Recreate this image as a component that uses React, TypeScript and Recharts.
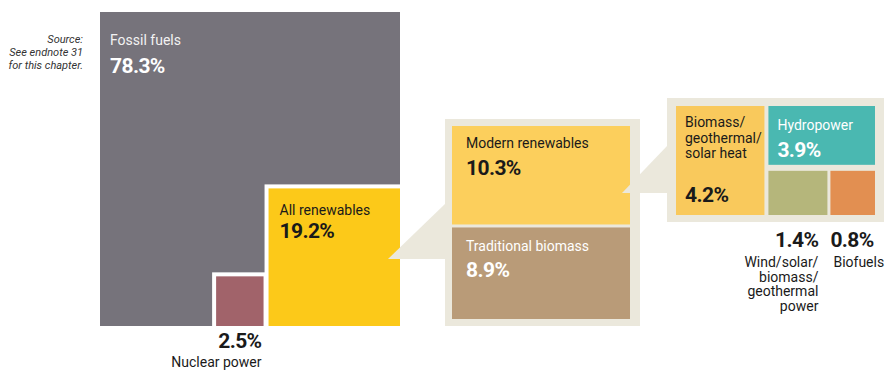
import React from 'react';
import { ComposedChart, XAxis, YAxis, ReferenceArea } from 'recharts';

// shares of total final energy consumption (%)
const shareLabels = ['Fossil fuels', 'All renewables', 'Nuclear power'];
const shareValues = [78.3, 19.2, 2.5];

const renewableLabels = ['Modern renewables', 'Traditional biomass'];
const renewableValues = [10.3, 8.9];

const modernLabels = [
  ['Biomass/', 'geothermal/', 'solar heat'],
  ['Hydropower'],
  ['Wind/solar/', 'biomass/', 'geothermal', 'power'],
  ['Biofuels'],
];
const modernValues = [4.2, 3.9, 1.4, 0.8];

const sourceNote = ['Source:', 'See endnote 31', 'for this chapter.'];

const W = 888;
const H = 380;
const FONT = 'Roboto, "Noto Sans", sans-serif';

const C = {
  fossil: '#76737b',
  renew: '#fcc919',
  nuclear: '#a1636a',
  panel: '#ebe8dc',
  modern: '#fccf5c',
  trad: '#b99b78',
  heat: '#f9c95c',
  hydro: '#4ab8b1',
  wind: '#b5b67b',
  bio: '#e28f51',
};

const pct = (v: number) => `${v.toFixed(1)}%`;
// box sides scale with the square root of the share, like the nested squares
const weight = (v: number) => Math.sqrt(v);

// layout frames
const block = { x: 100, y: 12, w: 300, h: 314 };
const panel1 = { x: 445, y: 119, w: 195, h: 207 };
const panel2 = { x: 667, y: 98, w: 217, h: 124 };

const total = shareValues.reduce((a, b) => a + b, 0);
const kR = Math.sqrt(shareValues[1] / total);
const kN = Math.sqrt(shareValues[2] / total);
const bx2 = block.x + block.w;
const by2 = block.y + block.h;
const renew = { x1: bx2 - block.w * kR, x2: bx2, y1: by2 - block.h * kR, y2: by2 };
const nuclear = { x2: renew.x1 - 5, x1: renew.x1 - 5 - block.w * kN, y1: by2 - block.h * kN, y2: by2 };

// middle panel: modern vs traditional
const in1 = { x1: panel1.x + 7, x2: panel1.x + panel1.w - 10, y1: panel1.y + 7, y2: panel1.y + panel1.h - 7 };
const avail1 = in1.y2 - in1.y1 - 3;
const wr = renewableValues.map(weight);
const modH = (avail1 * wr[0]) / (wr[0] + wr[1]);
const modern = { ...in1, y2: in1.y1 + modH };
const trad = { ...in1, y1: in1.y1 + modH + 3 };

// right panel: heat | (hydro / (wind | biofuels))
const in2 = { x1: panel2.x + 9, x2: panel2.x + panel2.w - 9, y1: panel2.y + 8, y2: panel2.y + panel2.h - 7 };
const wm = modernValues.map(weight);
const restW = weight(modernValues[1] + modernValues[2] + modernValues[3]);
const heatW = ((in2.x2 - in2.x1 - 4) * wm[0]) / (wm[0] + restW);
const heat = { ...in2, x2: in2.x1 + heatW };
const grpX1 = heat.x2 + 4;
const rowW = weight(modernValues[2] + modernValues[3]);
const hydroH = ((in2.y2 - in2.y1 - 6) * wm[1]) / (wm[1] + rowW);
const hydro = { x1: grpX1, x2: in2.x2, y1: in2.y1, y2: in2.y1 + hydroH };
const rowY1 = hydro.y2 + 6;
const windW = ((in2.x2 - grpX1 - 3) * wm[2]) / (wm[2] + wm[3]);
const wind = { x1: grpX1, x2: grpX1 + windW, y1: rowY1, y2: in2.y2 };
const bio = { x1: wind.x2 + 3, x2: in2.x2, y1: rowY1, y2: in2.y2 };

type TProps = {
  x: number;
  y: number;
  children: React.ReactNode;
  size?: number;
  bold?: boolean;
  fill?: string;
  anchor?: 'start' | 'end' | 'middle';
  italic?: boolean;
};
const T = ({ x, y, children, size = 14, bold, fill = '#1a1a1a', anchor = 'start', italic }: TProps) => (
  <text
    x={x}
    y={y}
    fontSize={size}
    fontWeight={bold ? 700 : 400}
    fill={fill}
    textAnchor={anchor}
    fontStyle={italic ? 'italic' : 'normal'}
    fontFamily={FONT}
    letterSpacing={bold ? -0.6 : 0}
  >
    {children}
  </text>
);

const plain = (fill: string) => (p: any) => <rect x={p.x} y={p.y} width={p.width} height={p.height} fill={fill} />;

const pointer = (fill: string) => (p: any) => (
  <polygon
    points={`${p.x},${p.y + p.height} ${p.x + p.width},${p.y} ${p.x + p.width},${p.y + p.height}`}
    fill={fill}
  />
);

const fossilShape = (p: any) => (
  <g>
    <rect x={p.x} y={p.y} width={p.width} height={p.height} fill={C.fossil} />
    <T x={p.x + 10} y={p.y + 33} fill="#f2f2f2">{shareLabels[0]}</T>
    <T x={p.x + 10} y={p.y + 61} size={21} bold fill="#ffffff">{pct(shareValues[0])}</T>
    {sourceNote.map((s, i) => (
      <T key={s} x={p.x - 17} y={p.y + 31 + i * 13} size={11} italic anchor="end" fill="#333">{s}</T>
    ))}
  </g>
);

const renewShape = (p: any) => (
  <g>
    <rect x={p.x} y={p.y} width={p.width} height={p.height} fill={C.renew} />
    <T x={p.x + 11} y={p.y + 27}>{shareLabels[1]}</T>
    <T x={p.x + 11} y={p.y + 50} size={21} bold>{pct(shareValues[1])}</T>
  </g>
);

const nuclearShape = (p: any) => (
  <g>
    <rect x={p.x} y={p.y} width={p.width} height={p.height} fill={C.nuclear} />
    <T x={p.x + p.width - 2} y={p.y + p.height + 22} size={21} bold anchor="end">{pct(shareValues[2])}</T>
    <T x={p.x + p.width - 2} y={p.y + p.height + 41} anchor="end">{shareLabels[2]}</T>
  </g>
);

const labelled = (fill: string, lines: string[], v: number, color: string, dy = 22, pctDy = 49, pad = 14) => (p: any) => (
  <g>
    <rect x={p.x} y={p.y} width={p.width} height={p.height} fill={fill} />
    {lines.map((l, i) => (
      <T key={l} x={p.x + pad} y={p.y + dy + i * 15.5} fill={color}>{l}</T>
    ))}
    <T x={p.x + pad} y={pctDy < 0 ? p.y + p.height + pctDy : p.y + pctDy} size={21} bold fill={color}>{pct(v)}</T>
  </g>
);

const windShape = (p: any) => (
  <g>
    <rect x={p.x} y={p.y} width={p.width} height={p.height} fill={C.wind} />
    <T x={p.x + p.width - 9} y={panel2.y + panel2.h + 25} size={21} bold anchor="end">{pct(modernValues[2])}</T>
    {modernLabels[2].map((l, i) => (
      <T key={l} x={p.x + p.width - 9} y={panel2.y + panel2.h + 45 + i * 14.5} anchor="end">{l}</T>
    ))}
  </g>
);

const bioShape = (p: any) => (
  <g>
    <rect x={p.x} y={p.y} width={p.width} height={p.height} fill={C.bio} />
    <T x={p.x} y={panel2.y + panel2.h + 25} size={21} bold>{pct(modernValues[3])}</T>
    <T x={p.x + 3} y={panel2.y + panel2.h + 45}>{modernLabels[3][0]}</T>
  </g>
);

const Area = ({ r, shape }: { r: { x1: number; x2: number; y1: number; y2: number }; shape: any }) => (
  <ReferenceArea x1={r.x1} x2={r.x2} y1={r.y1} y2={r.y2} shape={shape} ifOverflow="visible" />
);

export default function App() {
  return (
    <div style={{ position: 'fixed', left: 0, top: 0, width: W, height: H, background: '#fff' }}>
      <ComposedChart width={W} height={H} margin={{ top: 0, right: 0, bottom: 0, left: 0 }}>
        <XAxis type="number" dataKey="x" domain={[0, W]} allowDataOverflow hide />
        <YAxis type="number" dataKey="y" domain={[0, H]} allowDataOverflow reversed hide />

        <ReferenceArea x1={block.x} x2={bx2} y1={block.y} y2={by2} shape={fossilShape} ifOverflow="visible" />
        <Area r={{ x1: renew.x1 - 4, x2: renew.x2, y1: renew.y1 - 4, y2: renew.y2 }} shape={plain('#ffffff')} />
        <Area r={{ x1: nuclear.x1 - 4, x2: renew.x1, y1: nuclear.y1 - 4, y2: nuclear.y2 }} shape={plain('#ffffff')} />
        <Area r={nuclear} shape={nuclearShape} />
        <Area r={renew} shape={renewShape} />

        <Area r={{ x1: panel1.x, x2: panel1.x + panel1.w, y1: panel1.y, y2: panel1.y + panel1.h }} shape={plain(C.panel)} />
        <Area r={modern} shape={labelled(C.modern, [renewableLabels[0]], renewableValues[0], '#1a1a1a')} />
        <Area r={trad} shape={labelled(C.trad, [renewableLabels[1]], renewableValues[1], '#ffffff', 24, 50)} />

        <Area r={{ x1: panel2.x, x2: panel2.x + panel2.w, y1: panel2.y, y2: panel2.y + panel2.h }} shape={plain(C.panel)} />
        <Area r={heat} shape={labelled(C.heat, modernLabels[0], modernValues[0], '#1a1a1a', 21, -13, 9)} />
        <Area r={hydro} shape={labelled(C.hydro, modernLabels[1], modernValues[1], '#ffffff', 24, 51, 9)} />
        <Area r={wind} shape={windShape} />
        <Area r={bio} shape={bioShape} />

        <Area r={{ x1: renew.x2 - 12, x2: panel1.x, y1: 204, y2: 259 }} shape={pointer(C.panel)} />
        <Area r={{ x1: modern.x2 - 8, x2: panel2.x + 1, y1: 145, y2: 193 }} shape={pointer(C.panel)} />
      </ComposedChart>
    </div>
  );
}
